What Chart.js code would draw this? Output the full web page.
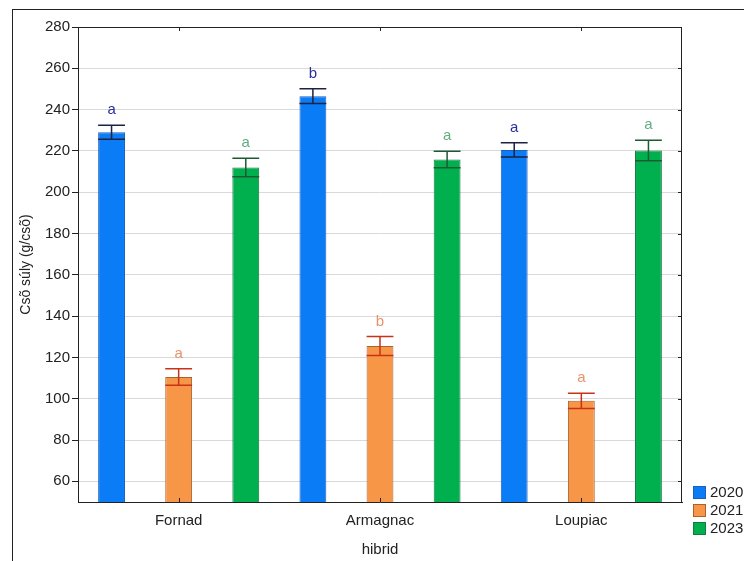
<!DOCTYPE html>
<html>
<head>
<meta charset="utf-8">
<script src="https://cdn.jsdelivr.net/npm/chart.js@4"></script>
<style>
  html, body { margin: 0; padding: 0; background: #fff; }
  #wrap { width: 744px; height: 561px; }
</style>
</head>
<body>
<div id="wrap"><canvas id="grafico" width="744" height="561"></canvas></div>
<script>
// Hibridek és évek
const hibridek = ["Fornad", "Armagnac", "Loupiac"];
const evek = ["2020", "2021", "2023"];

// Átlagok és hibák (kiolvasva)
const atlag2020 = [229, 246.5, 220.5];
const hiba2020 = [3.4, 3.6, 3.5];
const atlag2021 = [110.5, 125.5, 99];
const hiba2021 = [4, 4.6, 3.7];
const atlag2023 = [212, 215.8, 220.2];
const hiba2023 = [4.5, 4, 5];

// Betűjelek
const betu2020 = ["a", "b", "a"];
const betu2021 = ["a", "b", "a"];
const betu2023 = ["a", "a", "a"];

// Y tengely beosztás
const yTicks = [60, 80, 100, 120, 140, 160, 180, 200, 220, 240, 260, 280];

const szinek = ["#0a7cf6", "#f79646", "#00b04f"];
const keretek = ["#1b5fbf", "#a8622e", "#157a3d"];
const hibaSzinek = ["#1c2340", "#c83218", "#1d5a32"];
const betuSzinek = ["#2b2f9a", "#e8926a", "#62ae82"];

const atlagok = [atlag2020, atlag2021, atlag2023];
const hibak = [hiba2020, hiba2021, hiba2023];
const betuk = [betu2020, betu2021, betu2023];

const FONT = "'Liberation Sans', Arial, sans-serif";

// Hibasávok, betűk, keret, jelmagyarázat
const rajzPlugin = {
  id: "rajz",
  beforeDraw(chart) {
    const c = chart.ctx;
    c.save();
    c.fillStyle = "#fff";
    c.fillRect(0, 0, chart.width, chart.height);
    c.restore();
  },
  afterDatasetsDraw(chart) {
    const c = chart.ctx;
    const y = chart.scales.y;
    c.save();
    chart.data.datasets.forEach((ds, i) => {
      const meta = chart.getDatasetMeta(i);
      meta.data.forEach((bar, j) => {
        const m = atlagok[i][j], e = hibak[i][j];
        const yTop = y.getPixelForValue(m + e);
        const yBot = y.getPixelForValue(m - e);
        const x1 = bar.x - bar.width / 2, x2 = bar.x + bar.width / 2;
        c.strokeStyle = hibaSzinek[i];
        c.lineWidth = 1.5;
        c.beginPath();
        c.moveTo(bar.x, yTop); c.lineTo(bar.x, yBot);
        c.moveTo(x1, yTop); c.lineTo(x2, yTop);
        c.moveTo(x1, yBot); c.lineTo(x2, yBot);
        c.stroke();
        c.fillStyle = betuSzinek[i];
        c.font = "15px " + FONT;
        c.textAlign = "center";
        c.textBaseline = "middle";
        c.fillText(betuk[i][j], bar.x, yTop - 15);
      });
    });
    c.restore();
  },
  afterDraw(chart) {
    const c = chart.ctx;
    const a = chart.chartArea;
    const y = chart.scales.y;
    const x = chart.scales.x;
    c.save();
    // külső keret
    c.strokeStyle = "#222";
    c.lineWidth = 1;
    c.strokeRect(12.5, 9.5, 900, 700);
    // felső és jobb oldali tengely
    c.beginPath();
    c.moveTo(a.left, a.top + 0.5); c.lineTo(a.right, a.top + 0.5);
    c.moveTo(a.right - 0.5, a.top); c.lineTo(a.right - 0.5, a.bottom);
    yTicks.forEach(v => {
      const p = Math.round(y.getPixelForValue(v)) + 0.5;
      c.moveTo(a.right, p); c.lineTo(a.right - 4, p);
    });
    hibridek.forEach((h, k) => {
      const p = Math.round(x.getPixelForValue(k)) + 0.5;
      c.moveTo(p, a.top); c.lineTo(p, a.top + 4);
      c.moveTo(p, a.bottom); c.lineTo(p, a.bottom - 4);
    });
    c.stroke();
    // jelmagyarázat
    c.font = "15px " + FONT;
    c.textAlign = "left";
    c.textBaseline = "middle";
    evek.forEach((ev, i) => {
      const cy = 492 + i * 18;
      c.fillStyle = szinek[i];
      c.fillRect(693, cy - 6, 13, 13);
      c.strokeStyle = keretek[i];
      c.strokeRect(693.5, cy - 5.5, 12, 12);
      c.fillStyle = "#222";
      c.fillText(ev, 710, cy + 1);
    });
    c.restore();
  }
};

const ctx = document.getElementById("grafico").getContext("2d");
const grafico = new Chart(ctx, {
  type: "bar",
  data: {
    labels: hibridek,
    datasets: evek.map((ev, i) => ({
      label: ev,
      data: atlagok[i],
      backgroundColor: szinek[i],
      borderColor: keretek[i],
      borderWidth: 1,
      barPercentage: 0.4,
      categoryPercentage: 1.0
    }))
  },
  options: {
    responsive: false,
    animation: false,
    devicePixelRatio: 1,
    layout: { padding: { left: 14, top: 27, right: 62, bottom: 0 } },
    plugins: {
      legend: { display: false },
      tooltip: { enabled: false }
    },
    scales: {
      x: {
        grid: { display: false, drawTicks: false },
        border: { color: "#222", width: 1 },
        ticks: { color: "#222", font: { family: FONT, size: 15 }, padding: 10 },
        title: { display: true, text: "hibrid", color: "#222", font: { family: FONT, size: 15 }, padding: { top: 0, bottom: 2 } },
        afterFit(s) { s.height = 59; }
      },
      y: {
        min: 50,
        max: 280,
        afterBuildTicks(s) { s.ticks = yTicks.map(v => ({ value: v })); },
        grid: { color: "#d9d9d9", tickColor: "#222", tickLength: 6 },
        border: { color: "#222", width: 1 },
        ticks: { color: "#222", font: { family: FONT, size: 15 }, padding: 2 },
        title: { display: true, text: "Csõ súly (g/csõ)", color: "#222", font: { family: FONT, size: 14 }, padding: { top: 4, bottom: 4 } },
        afterFit(s) { s.width = 64; }
      }
    }
  },
  plugins: [rajzPlugin]
});
</script>
</body>
</html>
